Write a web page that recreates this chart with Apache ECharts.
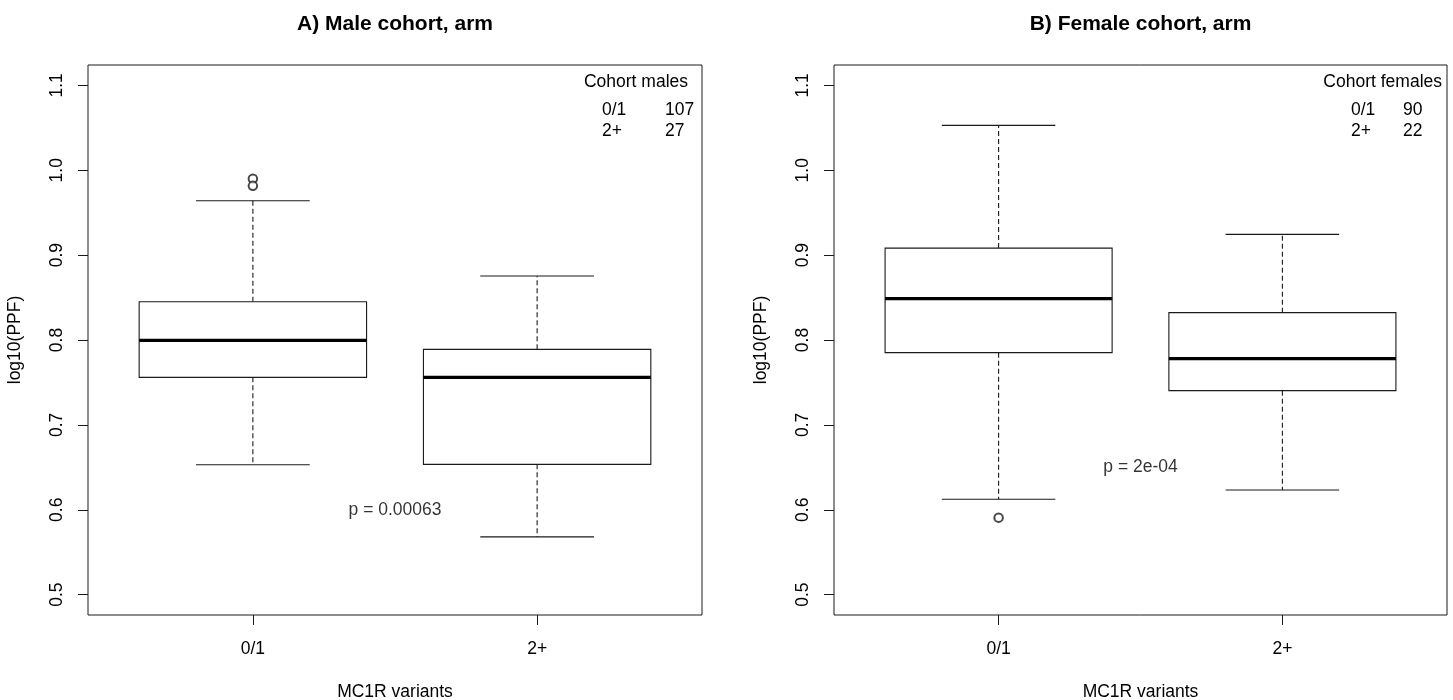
<!DOCTYPE html>
<html>
<head>
<meta charset="utf-8">
<script src="https://cdn.jsdelivr.net/npm/echarts@6/dist/echarts.min.js"></script>
<style>
html,body{margin:0;padding:0;background:#fff;}
#chart{width:1453px;height:700px;}
</style>
</head>
<body>
<div id="chart"></div>
<script>
// ---- data ----
const categories = ['0/1', '2+'];
const yTicks = [0.5, 0.6, 0.7, 0.8, 0.9, 1.0, 1.1];

const maleLow    = [0.653, 0.568];
const maleQ1     = [0.756, 0.6535];
const maleMedian = [0.7996, 0.756];
const maleQ3     = [0.845, 0.789];
const maleHigh   = [0.964, 0.8754];
const maleOutliers = [[1, 0.990], [1, 0.9816]];

const femaleLow    = [0.6123, 0.6232];
const femaleQ1     = [0.7851, 0.7403];
const femaleMedian = [0.8487, 0.778];
const femaleQ3     = [0.9083, 0.8322];
const femaleHigh   = [1.0529, 0.9245];
const femaleOutliers = [[1, 0.5907]];

const maleCounts = [107, 27];
const femaleCounts = [90, 22];
const panelTitles = ['A) Male cohort, arm', 'B) Female cohort, arm'];
const legendTitles = ['Cohort males', 'Cohort females'];
const pValues = ['p = 0.00063', 'p = 2e-04'];
const pValueY = [0.6, 0.65];
const xName = 'MC1R variants';
const yName = 'log10(PPF)';

// ---- layout ----
const FONT = '"Liberation Sans", Arial, sans-serif';
const FS = 17.5;
const grids = [
  {left: 88, top: 65, width: 614, height: 550},
  {left: 834, top: 65, width: 613, height: 550}
];

function boxData(low, q1, med, q3, high) {
  return categories.map((c, i) => [i + 1, low[i], q1[i], med[i], q3[i], high[i]]);
}

function renderBox(params, api) {
  const x = api.value(0);
  const pL = api.coord([x, api.value(1)]);
  const p1 = api.coord([x, api.value(2)]);
  const pm = api.coord([x, api.value(3)]);
  const p3 = api.coord([x, api.value(4)]);
  const pH = api.coord([x, api.value(5)]);
  const hw = api.size([0.8, 0])[0] / 2;
  const cw = hw / 2;
  const cx = pm[0];
  const thin = {stroke: '#1a1a1a', lineWidth: 1.1, fill: null};
  const dash = {stroke: '#1a1a1a', lineWidth: 1.1, lineDash: [5, 3]};
  return {
    type: 'group',
    children: [
      {type: 'line', shape: {x1: cx, y1: p3[1], x2: cx, y2: pH[1]}, style: dash},
      {type: 'line', shape: {x1: cx, y1: p1[1], x2: cx, y2: pL[1]}, style: dash},
      {type: 'line', shape: {x1: cx - cw, y1: pH[1], x2: cx + cw, y2: pH[1]}, style: thin},
      {type: 'line', shape: {x1: cx - cw, y1: pL[1], x2: cx + cw, y2: pL[1]}, style: thin},
      {type: 'rect', shape: {x: cx - hw, y: p3[1], width: 2 * hw, height: p1[1] - p3[1]},
        style: {stroke: '#1a1a1a', lineWidth: 1.1, fill: '#fff'}},
      {type: 'line', shape: {x1: cx - hw, y1: pm[1], x2: cx + hw, y2: pm[1]},
        style: {stroke: '#000', lineWidth: 3.2}}
    ]
  };
}

const xAxes = grids.map((g, i) => ({
  type: 'value', gridIndex: i, min: 0.42, max: 2.58,
  splitLine: {show: false},
  axisLine: {show: false},
  axisTick: {show: true, customValues: [1, 2], length: 10, lineStyle: {color: '#1a1a1a', width: 1}},
  axisLabel: {show: true, customValues: [1, 2], margin: 25, color: '#000', fontSize: FS, fontFamily: FONT,
    formatter: v => categories[Math.round(v) - 1]},
  name: xName, nameLocation: 'middle', nameGap: 68,
  nameTextStyle: {color: '#000', fontSize: FS, fontFamily: FONT}
}));

const yAxes = grids.map((g, i) => ({
  type: 'value', gridIndex: i, min: 0.476, max: 1.124,
  splitLine: {show: false},
  axisLine: {show: false},
  axisTick: {show: true, customValues: yTicks, length: 10, lineStyle: {color: '#1a1a1a', width: 1}},
  axisLabel: {show: true, customValues: yTicks, rotate: 90, margin: 22, color: '#000', fontSize: FS, fontFamily: FONT,
    formatter: v => v.toFixed(1)},
  name: yName, nameLocation: 'middle', nameGap: 64,
  nameTextStyle: {color: '#000', fontSize: FS, fontFamily: FONT}
}));

const allBoxes = [
  boxData(maleLow, maleQ1, maleMedian, maleQ3, maleHigh),
  boxData(femaleLow, femaleQ1, femaleMedian, femaleQ3, femaleHigh)
];
const allOutliers = [maleOutliers, femaleOutliers];

const series = [];
[0, 1].forEach(i => {
  series.push({
    type: 'custom', xAxisIndex: i, yAxisIndex: i, silent: true,
    renderItem: renderBox,
    encode: {x: 0, y: [1, 2, 3, 4, 5]},
    data: allBoxes[i]
  });
  series.push({
    type: 'scatter', xAxisIndex: i, yAxisIndex: i, silent: true,
    symbol: 'emptyCircle', symbolSize: 8.5,
    itemStyle: {color: '#1a1a1a', borderColor: '#1a1a1a', borderWidth: 1},
    data: allOutliers[i]
  });
  series.push({
    type: 'scatter', xAxisIndex: i, yAxisIndex: i, silent: true,
    symbolSize: 0,
    label: {show: true, position: 'inside', formatter: pValues[i], color: '#000', fontSize: FS, fontFamily: FONT},
    data: [[1.5, pValueY[i]]]
  });
});

// titles and in-plot count tables
const graphic = [];
const titleX = [395, 1140.5];
const legendRight = [688, 1442];
const legendCatX = [602, 1351];
const legendNumX = [665, 1403];
const counts = [maleCounts, femaleCounts];
[0, 1].forEach(i => {
  graphic.push({type: 'text', x: titleX[i], y: 24.5,
    style: {text: panelTitles[i], align: 'center', verticalAlign: 'middle',
      font: 'bold 21px ' + FONT, fill: '#000'}});
  graphic.push({type: 'text', x: legendRight[i], y: 82.5,
    style: {text: legendTitles[i], align: 'right', verticalAlign: 'middle',
      font: FS + 'px ' + FONT, fill: '#000'}});
  categories.forEach((c, j) => {
    const y = 110 + j * 20.7;
    graphic.push({type: 'text', x: legendCatX[i], y: y,
      style: {text: c, align: 'left', verticalAlign: 'middle', font: FS + 'px ' + FONT, fill: '#000'}});
    graphic.push({type: 'text', x: legendNumX[i], y: y,
      style: {text: String(counts[i][j]), align: 'left', verticalAlign: 'middle', font: FS + 'px ' + FONT, fill: '#000'}});
  });
});

const chart = echarts.init(document.getElementById('chart'), null, {renderer: 'canvas'});
chart.setOption({
  backgroundColor: '#fff',
  animation: false,
  grid: grids.map(g => Object.assign({show: true, borderColor: '#1a1a1a', borderWidth: 1,
    backgroundColor: 'transparent', containLabel: false, outerBoundsMode: 'none'}, g)),
  xAxis: xAxes,
  yAxis: yAxes,
  series: series,
  graphic: graphic
});
</script>
</body>
</html>
